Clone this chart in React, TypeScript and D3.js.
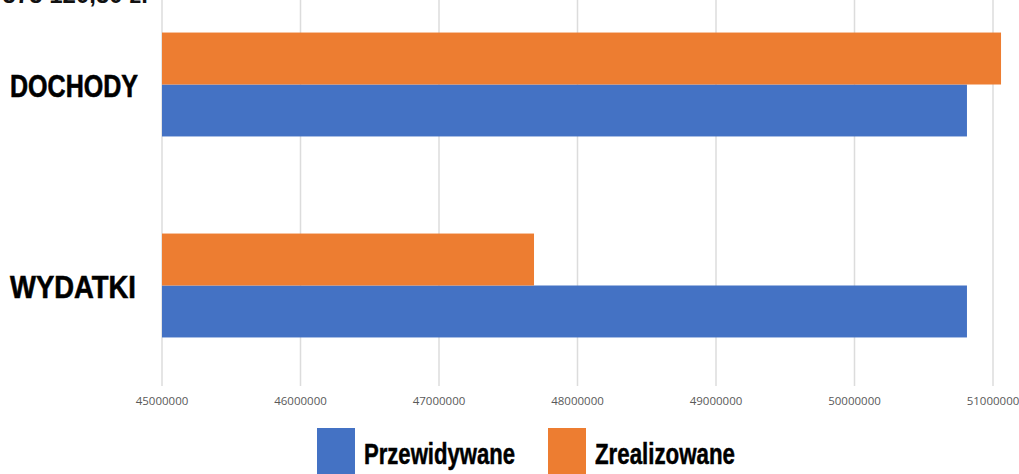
import React, { useEffect, useRef } from "react";
import * as d3 from "d3";

const categories = ["DOCHODY", "WYDATKI"];
const seriesNames = ["Przewidywane", "Zrealizowane"];
const przewidywane = [50812000, 50812000];
const zrealizowane = [51058000, 47686000];
const xTicks = [45000000, 46000000, 47000000, 48000000, 49000000, 50000000, 51000000];
const colors = ["#4472C4", "#ED7D31"];

const App = () => {
  const svgRef = useRef<SVGSVGElement>(null);

  useEffect(() => {
    const w = 1019;
    const h = 474;
    const svg = d3.select(svgRef.current).attr("width", w).attr("height", h);
    svg.selectAll("*").remove();

    const x = d3.scaleLinear().domain([45000000, 51000000]).range([162, 993]);
    const y = d3.scaleBand<string>()
      .domain(categories)
      .range([-16, 386])
      .paddingInner(0.483)
      .paddingOuter(0.2415);
    // orange sits above blue inside each group
    const inner = d3.scaleBand<string>()
      .domain(["Zrealizowane", "Przewidywane"])
      .range([0, y.bandwidth()]);

    // heading, cut off by the top edge like in the source image
    svg.append("text")
      .attr("x", 148)
      .attr("y", 3)
      .attr("text-anchor", "end")
      .attr("font-family", "Liberation Sans Narrow, sans-serif")
      .attr("font-weight", "bold")
      .attr("font-size", 24)
      .attr("fill", "#111")
      .text("49 575 120,50 zł");

    // gridlines
    svg.append("g")
      .selectAll("line")
      .data(xTicks)
      .join("line")
      .attr("x1", d => x(d))
      .attr("x2", d => x(d))
      .attr("y1", 0)
      .attr("y2", 386)
      .attr("stroke", "#dcdcdc")
      .attr("stroke-width", 1.5);

    svg.append("g")
      .selectAll("text")
      .data(xTicks)
      .join("text")
      .attr("x", d => x(d))
      .attr("y", 405)
      .attr("text-anchor", "middle")
      .attr("font-family", "Open Sans, sans-serif")
      .attr("font-size", 11.5)
      .attr("fill", "#595959")
      .text(d => String(d));

    const rows = categories.map((c, i) => ({
      cat: c,
      values: [
        { name: "Przewidywane", value: przewidywane[i], color: colors[0] },
        { name: "Zrealizowane", value: zrealizowane[i], color: colors[1] }
      ]
    }));

    const groups = svg.append("g")
      .selectAll("g")
      .data(rows)
      .join("g")
      .attr("transform", d => `translate(0, ${y(d.cat)})`);

    groups.selectAll("rect")
      .data(d => d.values)
      .join("rect")
      .attr("x", x(45000000))
      .attr("y", d => inner(d.name)!)
      .attr("width", d => x(d.value) - x(45000000))
      .attr("height", inner.bandwidth())
      .attr("fill", d => d.color);

    // category labels
    svg.append("g")
      .selectAll("text")
      .data(categories)
      .join("text")
      .attr("x", 10)
      .attr("y", d => y(d)! + y.bandwidth() / 2 + 12)
      .attr("font-family", "Liberation Sans Narrow, sans-serif")
      .attr("font-weight", "bold")
      .attr("font-size", 31)
      .attr("fill", "#000")
      .attr("stroke", "#000")
      .attr("stroke-width", 0.6)
      .attr("textLength", d => (d === "DOCHODY" ? 128 : 126))
      .attr("lengthAdjust", "spacingAndGlyphs")
      .text(d => d);

    // legend
    const legendX = [317, 548];
    const legend = svg.append("g")
      .selectAll("g")
      .data(seriesNames)
      .join("g")
      .attr("transform", (d, i) => `translate(${legendX[i]}, 428)`);

    legend.append("rect")
      .attr("width", 38)
      .attr("height", 50)
      .attr("fill", (d, i) => colors[i]);

    legend.append("text")
      .attr("x", 47)
      .attr("y", 36)
      .attr("font-family", "Liberation Sans Narrow, sans-serif")
      .attr("font-weight", "bold")
      .attr("font-size", 30)
      .attr("fill", "#000")
      .attr("stroke", "#000")
      .attr("stroke-width", 0.5)
      .attr("textLength", (d, i) => (i === 0 ? 151 : 140))
      .attr("lengthAdjust", "spacingAndGlyphs")
      .text(d => d);
  }, []);

  return <svg ref={svgRef} style={{ position: "absolute", left: 0, top: 0 }} />;
};

export default App;
